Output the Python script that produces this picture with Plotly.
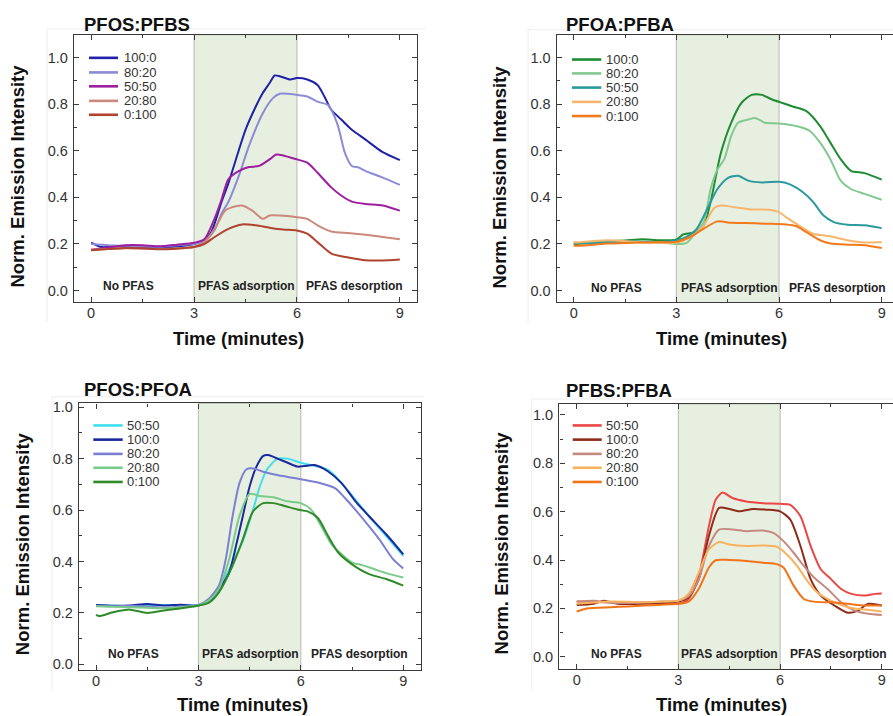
import plotly.graph_objects as go

# ---------------- data: PFOS:PFBS ----------------
t_osbs_100_0 = [0, 0.3, 0.8, 1.5, 2.2, 2.7, 3, 3.3, 3.5, 3.8, 4, 4.3, 4.5, 4.8, 5, 5.2, 5.35, 5.5, 5.8, 6, 6.3, 6.6, 6.8, 7, 7.3, 7.6, 8, 8.5, 9]
v_osbs_100_0 = [0.206, 0.187, 0.19, 0.188, 0.186, 0.192, 0.2, 0.215, 0.25, 0.38, 0.46, 0.6, 0.69, 0.79, 0.847, 0.89, 0.923, 0.92, 0.906, 0.912, 0.906, 0.882, 0.833, 0.776, 0.733, 0.69, 0.648, 0.594, 0.56]
t_osbs_80_20 = [0, 0.5, 1, 1.5, 2, 2.5, 3, 3.3, 3.6, 3.8, 4, 4.3, 4.6, 5, 5.3, 5.5, 6, 6.3, 6.6, 6.9, 7, 7.2, 7.4, 7.6, 7.8, 8, 8.5, 9]
v_osbs_80_20 = [0.2, 0.195, 0.192, 0.19, 0.188, 0.195, 0.2, 0.21, 0.26, 0.33, 0.38, 0.49, 0.62, 0.76, 0.826, 0.845, 0.84, 0.833, 0.811, 0.797, 0.776, 0.705, 0.59, 0.535, 0.528, 0.513, 0.485, 0.454]
t_osbs_50_50 = [0, 0.5, 1, 1.5, 2, 2.5, 3, 3.3, 3.6, 3.8, 4, 4.3, 4.6, 4.9, 5.2, 5.4, 5.6, 6, 6.3, 6.6, 7, 7.3, 7.6, 8, 8.5, 9]
v_osbs_50_50 = [0.175, 0.185, 0.195, 0.195, 0.19, 0.197, 0.205, 0.22, 0.31, 0.39, 0.478, 0.513, 0.53, 0.535, 0.563, 0.584, 0.58, 0.563, 0.549, 0.506, 0.443, 0.407, 0.382, 0.372, 0.365, 0.343]
t_osbs_20_80 = [0, 0.5, 1, 1.5, 2, 2.5, 3, 3.3, 3.6, 3.9, 4.1, 4.4, 4.7, 5, 5.2, 5.5, 6, 6.3, 6.6, 7, 7.5, 8, 8.5, 9]
v_osbs_20_80 = [0.175, 0.178, 0.182, 0.18, 0.178, 0.182, 0.187, 0.208, 0.265, 0.343, 0.357, 0.365, 0.343, 0.308, 0.322, 0.322, 0.315, 0.308, 0.28, 0.254, 0.247, 0.24, 0.23, 0.22]
t_osbs_0_100 = [0, 0.5, 1, 1.5, 2, 2.5, 3, 3.3, 3.6, 4, 4.4, 4.8, 5.2, 5.6, 6, 6.3, 6.6, 7, 7.5, 8, 8.5, 9]
v_osbs_0_100 = [0.173, 0.178, 0.183, 0.182, 0.177, 0.18, 0.187, 0.2, 0.23, 0.265, 0.284, 0.28, 0.27, 0.262, 0.258, 0.244, 0.208, 0.159, 0.142, 0.13, 0.129, 0.133]

# ---------------- data: PFOA:PFBA ----------------
t_oaba_100_0 = [0, 0.5, 1, 1.5, 2, 2.5, 3, 3.2, 3.5, 3.8, 4, 4.3, 4.6, 4.9, 5.2, 5.5, 5.8, 6.1, 6.4, 6.8, 7.2, 7.5, 7.8, 8.1, 8.5, 9]
v_oaba_100_0 = [0.199, 0.205, 0.212, 0.215, 0.22, 0.216, 0.22, 0.241, 0.25, 0.28, 0.38, 0.59, 0.72, 0.805, 0.84, 0.84, 0.82, 0.805, 0.79, 0.77, 0.706, 0.635, 0.564, 0.514, 0.504, 0.476]
t_oaba_80_20 = [0, 0.5, 1, 1.5, 2, 2.5, 3, 3.3, 3.5, 3.8, 4, 4.2, 4.4, 4.6, 4.8, 5.1, 5.3, 5.6, 6, 6.5, 6.9, 7.2, 7.5, 7.8, 8.1, 8.5, 9]
v_oaba_80_20 = [0.205, 0.205, 0.21, 0.212, 0.21, 0.208, 0.2, 0.205, 0.237, 0.294, 0.436, 0.52, 0.564, 0.663, 0.72, 0.734, 0.741, 0.72, 0.717, 0.706, 0.685, 0.635, 0.564, 0.472, 0.436, 0.415, 0.39]
t_oaba_50_50 = [0, 0.5, 1, 1.5, 2, 2.5, 3, 3.3, 3.6, 3.9, 4.2, 4.5, 4.8, 5.1, 5.5, 6, 6.3, 6.7, 7, 7.3, 7.6, 8, 8.5, 9]
v_oaba_50_50 = [0.205, 0.203, 0.208, 0.21, 0.21, 0.208, 0.216, 0.23, 0.266, 0.35, 0.436, 0.483, 0.493, 0.472, 0.464, 0.467, 0.457, 0.422, 0.38, 0.322, 0.294, 0.283, 0.28, 0.268]
t_oaba_20_80 = [0, 0.5, 1, 1.5, 2, 2.5, 3, 3.5, 3.8, 4.1, 4.3, 4.7, 5.2, 5.7, 6, 6.2, 6.5, 7, 7.5, 8, 8.5, 9]
v_oaba_20_80 = [0.206, 0.212, 0.216, 0.212, 0.206, 0.206, 0.206, 0.237, 0.28, 0.354, 0.365, 0.358, 0.348, 0.347, 0.337, 0.315, 0.287, 0.244, 0.233, 0.216, 0.206, 0.209]
t_oaba_0_100 = [0, 0.5, 1, 1.5, 2, 2.5, 3, 3.4, 3.8, 4.2, 4.6, 5, 5.6, 6.2, 6.5, 6.8, 7.2, 7.5, 8, 8.5, 9]
v_oaba_0_100 = [0.192, 0.196, 0.202, 0.204, 0.206, 0.207, 0.209, 0.23, 0.266, 0.297, 0.291, 0.29, 0.287, 0.284, 0.277, 0.251, 0.216, 0.202, 0.197, 0.195, 0.183]

# ---------------- data: PFOS:PFOA ----------------
t_osoa_50_50 = [0, 0.5, 1, 1.5, 2, 2.5, 3, 3.3, 3.6, 4, 4.3, 4.6, 4.8, 5, 5.3, 5.6, 6, 6.3, 6.8, 7.2, 7.6, 8, 8.5, 9]
v_osoa_50_50 = [0.231, 0.228, 0.226, 0.228, 0.231, 0.231, 0.231, 0.248, 0.293, 0.396, 0.479, 0.601, 0.692, 0.756, 0.798, 0.8, 0.784, 0.775, 0.756, 0.704, 0.64, 0.576, 0.499, 0.422]
t_osoa_100_0 = [0, 0.5, 1, 1.5, 2, 2.5, 3, 3.3, 3.6, 3.9, 4.1, 4.3, 4.5, 4.7, 4.9, 5.05, 5.3, 5.6, 5.9, 6.1, 6.4, 6.8, 7.2, 7.6, 8, 8.5, 9]
v_osoa_100_0 = [0.231, 0.228, 0.229, 0.235, 0.229, 0.232, 0.229, 0.248, 0.293, 0.357, 0.46, 0.576, 0.692, 0.769, 0.811, 0.814, 0.801, 0.785, 0.769, 0.771, 0.775, 0.75, 0.704, 0.634, 0.576, 0.506, 0.428]
t_osoa_80_20 = [0, 0.5, 1, 1.5, 2, 2.5, 3, 3.3, 3.6, 3.8, 4, 4.2, 4.4, 4.6, 4.9, 5.3, 5.7, 6, 6.5, 7, 7.3, 7.6, 8, 8.3, 8.7, 9]
v_osoa_80_20 = [0.228, 0.226, 0.228, 0.225, 0.22, 0.225, 0.231, 0.254, 0.306, 0.409, 0.576, 0.704, 0.758, 0.762, 0.749, 0.736, 0.727, 0.72, 0.707, 0.685, 0.646, 0.601, 0.537, 0.486, 0.409, 0.373]
t_osoa_20_80 = [0, 0.5, 1, 1.5, 2, 2.5, 3, 3.3, 3.6, 3.9, 4.2, 4.5, 4.8, 5.2, 5.6, 6, 6.3, 6.6, 6.9, 7.2, 7.5, 7.8, 8.2, 8.6, 9]
v_osoa_20_80 = [0.226, 0.224, 0.222, 0.22, 0.218, 0.222, 0.229, 0.248, 0.293, 0.409, 0.576, 0.663, 0.655, 0.65, 0.634, 0.627, 0.602, 0.537, 0.467, 0.428, 0.396, 0.386, 0.368, 0.351, 0.338]
t_osoa_0_100 = [0, 0.1, 0.5, 1, 1.5, 2, 2.5, 3, 3.3, 3.6, 4, 4.3, 4.6, 4.9, 5.2, 5.5, 5.9, 6.2, 6.5, 6.8, 7.1, 7.5, 8, 8.5, 9]
v_osoa_0_100 = [0.193, 0.188, 0.203, 0.213, 0.2, 0.21, 0.218, 0.229, 0.239, 0.28, 0.383, 0.486, 0.595, 0.627, 0.627, 0.617, 0.602, 0.595, 0.569, 0.499, 0.434, 0.389, 0.351, 0.332, 0.306]

# ---------------- data: PFBS:PFBA ----------------
t_bsba_50_50 = [0, 0.5, 1, 1.5, 2, 2.5, 3, 3.3, 3.6, 3.9, 4.1, 4.3, 4.6, 5, 5.5, 6, 6.3, 6.6, 6.9, 7.2, 7.5, 7.8, 8.1, 8.5, 8.8, 9]
v_bsba_50_50 = [0.228, 0.226, 0.225, 0.224, 0.223, 0.222, 0.219, 0.239, 0.335, 0.54, 0.649, 0.679, 0.656, 0.642, 0.635, 0.632, 0.628, 0.581, 0.458, 0.362, 0.321, 0.28, 0.26, 0.253, 0.26, 0.262]
t_bsba_100_0 = [0, 0.5, 0.8, 1.2, 2, 2.5, 3, 3.3, 3.6, 3.9, 4.2, 4.5, 4.8, 5.2, 5.6, 6, 6.3, 6.6, 6.9, 7.2, 7.6, 8, 8.3, 8.6, 9]
v_bsba_100_0 = [0.214, 0.219, 0.232, 0.219, 0.219, 0.222, 0.228, 0.246, 0.321, 0.499, 0.615, 0.611, 0.601, 0.611, 0.608, 0.601, 0.567, 0.458, 0.321, 0.253, 0.212, 0.182, 0.191, 0.219, 0.212]
t_bsba_80_20 = [0, 0.5, 1, 1.5, 2, 2.5, 3, 3.3, 3.6, 3.9, 4.2, 4.6, 5, 5.5, 5.8, 6.1, 6.4, 6.7, 7, 7.4, 7.8, 8.2, 8.6, 9]
v_bsba_80_20 = [0.228, 0.232, 0.223, 0.222, 0.225, 0.228, 0.232, 0.25, 0.321, 0.458, 0.526, 0.526, 0.519, 0.522, 0.512, 0.478, 0.43, 0.376, 0.328, 0.28, 0.225, 0.191, 0.178, 0.173]
t_bsba_20_80 = [0, 0.5, 1, 1.5, 2, 2.5, 3, 3.3, 3.6, 3.9, 4.2, 4.5, 5, 5.5, 5.9, 6.2, 6.5, 6.8, 7.1, 7.5, 8, 8.5, 9]
v_bsba_20_80 = [0.219, 0.224, 0.228, 0.227, 0.225, 0.228, 0.232, 0.26, 0.348, 0.444, 0.474, 0.464, 0.458, 0.46, 0.455, 0.423, 0.376, 0.314, 0.266, 0.232, 0.205, 0.195, 0.187]
t_bsba_0_100 = [0, 0.3, 1, 1.5, 2, 2.5, 3, 3.3, 3.6, 3.9, 4.1, 4.5, 5, 5.5, 5.9, 6.1, 6.4, 6.7, 7, 7.5, 8, 8.5, 9]
v_bsba_0_100 = [0.187, 0.2, 0.205, 0.208, 0.212, 0.215, 0.219, 0.228, 0.28, 0.369, 0.399, 0.4, 0.396, 0.389, 0.383, 0.369, 0.294, 0.239, 0.228, 0.225, 0.219, 0.212, 0.212]

# ---------------- labels ----------------
panel_titles = ["PFOS:PFBS", "PFOA:PFBA", "PFOS:PFOA", "PFBS:PFBA"]
phase_labels = ["No PFAS", "PFAS adsorption", "PFAS desorption"]
x_ticks = [0, 3, 6, 9]
y_ticks = [0.0, 0.2, 0.4, 0.6, 0.8, 1.0]
x_title = "Time (minutes)"
y_title = "Norm. Emission Intensity"

W, H = 893, 716
FONT = "Liberation Sans, Arial, sans-serif"
INK = "#222222"
AXC = "#3a3a3a"


def fx(p):
    return p / W


def fy(p):
    return 1 - p / H


# per-panel layout: frame box in pixels (left, top, right, bottom), axis ranges,
# title anchor, phase-label positions, axis-title anchors, legend geometry,
# faint outer panel border (left, top, right, bottom), series
panels = [
    dict(box=(74, 31, 417, 301), xr=[-0.5, 9.5], yr=[-0.051, 1.098], mirror_y=True,
         title_xy=(82, 20.5), phase_x=[1.08, 4.53, 7.69], phase_y=0.02,
         ytitle_xy=(18, 174), xtitle_xy=(238, 337),
         leg_x=(89, 118, 122), leg_y=[54.3, 69, 83, 97.7, 111.7],
         outer=(47, 25, 425, 321),
         series=[("100:0", t_osbs_100_0, v_osbs_100_0, "#1f22a6"),
                 ("80:20", t_osbs_80_20, v_osbs_80_20, "#8b8bd6"),
                 ("50:50", t_osbs_50_50, v_osbs_50_50, "#9c1fa0"),
                 ("20:80", t_osbs_20_80, v_osbs_20_80, "#cc887a"),
                 ("0:100", t_osbs_0_100, v_osbs_0_100, "#b0432f")]),
    dict(box=(556.7, 31, 893, 301), xr=[-0.497, 9.33], yr=[-0.051, 1.098], mirror_y=False,
         title_xy=(564.3, 20.5), phase_x=[1.24, 4.55, 7.72], phase_y=0.01,
         ytitle_xy=(500, 175), xtitle_xy=(721, 337.7),
         leg_x=(572, 601.3, 604.3), leg_y=[56, 70, 84.3, 98.7, 113],
         outer=(528, 26, 893, 321),
         series=[("100:0", t_oaba_100_0, v_oaba_100_0, "#1f8c34"),
                 ("80:20", t_oaba_80_20, v_oaba_80_20, "#82c98f"),
                 ("50:50", t_oaba_50_50, v_oaba_50_50, "#2b9a9e"),
                 ("20:80", t_oaba_20_80, v_oaba_20_80, "#f7b66e"),
                 ("0:100", t_oaba_0_100, v_oaba_0_100, "#f27a1a")]),
    dict(box=(79, 402.7, 421, 671.7), xr=[-0.498, 9.52], yr=[-0.022, 1.015], mirror_y=True,
         title_xy=(81.7, 388.3), phase_x=[1.11, 4.54, 7.72], phase_y=0.042,
         ytitle_xy=(22.7, 544), xtitle_xy=(242.5, 706.7),
         leg_x=(93.3, 122.7, 125.3), leg_y=[425, 439.3, 453.7, 467.7, 482],
         outer=(52, 396, 424, 692),
         series=[("50:50", t_osoa_50_50, v_osoa_50_50, "#40dff0"),
                 ("100:0", t_osoa_100_0, v_osoa_100_0, "#1a2a9c"),
                 ("80:20", t_osoa_80_20, v_osoa_80_20, "#7b80d2"),
                 ("20:80", t_osoa_20_80, v_osoa_20_80, "#78cc88"),
                 ("0:100", t_osoa_0_100, v_osoa_0_100, "#2f8a2a")]),
    dict(box=(559.3, 403.3, 893, 671), xr=[-0.513, 9.33], yr=[-0.052, 1.045], mirror_y=False,
         title_xy=(564.3, 389.3), phase_x=[1.18, 4.52, 7.72], phase_y=0.011,
         ytitle_xy=(501, 544), xtitle_xy=(721, 706.7),
         leg_x=(572.7, 601.7, 604.3), leg_y=[425, 439.3, 453.7, 467.7, 482],
         outer=(531.7, 398.3, 893, 693),
         series=[("50:50", t_bsba_50_50, v_bsba_50_50, "#ec4646"),
                 ("100:0", t_bsba_100_0, v_bsba_100_0, "#8e2c1c"),
                 ("80:20", t_bsba_80_20, v_bsba_80_20, "#c48a80"),
                 ("20:80", t_bsba_20_80, v_bsba_20_80, "#f8b25c"),
                 ("0:100", t_bsba_0_100, v_bsba_0_100, "#f27418")]),
]

fig = go.Figure()
layout = dict(width=W, height=H, margin=dict(l=0, r=0, t=0, b=0),
              paper_bgcolor="white", plot_bgcolor="white", showlegend=False)
shapes, annotations = [], []

for i, p in enumerate(panels):
    n = "" if i == 0 else str(i + 1)
    xa, ya = "x" + n, "y" + n
    left, top, right, bottom = p["box"]

    layout["xaxis" + n] = dict(
        domain=[fx(left), fx(right)], range=p["xr"], anchor=ya,
        showline=True, linecolor=AXC, linewidth=1.4, mirror="ticks",
        ticks="inside", ticklen=5, tickwidth=1.2, tickcolor=AXC,
        tickvals=x_ticks, ticklabelstandoff=-3,
        tickfont=dict(family=FONT, size=14.5, color="#333"),
        minor=dict(ticks="inside", ticklen=3, tickwidth=1, tickcolor=AXC, tickvals=[1.5, 4.5, 7.5]),
        showgrid=False, zeroline=False, fixedrange=True)
    layout["yaxis" + n] = dict(
        domain=[fy(bottom), fy(top)], range=p["yr"], anchor=xa,
        showline=True, linecolor=AXC, linewidth=1.4,
        mirror="ticks" if p["mirror_y"] else False,
        ticks="inside", ticklen=5, tickwidth=1.2, tickcolor=AXC,
        tickvals=y_ticks, tickformat=".1f", ticklabelstandoff=2,
        tickfont=dict(family=FONT, size=14.5, color="#333"),
        minor=dict(ticks="inside", ticklen=3, tickwidth=1, tickcolor=AXC,
                   tickvals=[0.1, 0.3, 0.5, 0.7, 0.9]),
        showgrid=False, zeroline=False, fixedrange=True)

    # faint outer panel border (top and left edges)
    ol, ot, orr, ob = p["outer"]
    shapes.append(dict(type="line", xref="paper", yref="paper", x0=fx(ol), x1=fx(orr),
                       y0=fy(ot), y1=fy(ot), line=dict(color="#eeeeee", width=1), layer="below"))
    shapes.append(dict(type="line", xref="paper", yref="paper", x0=fx(ol), x1=fx(ol),
                       y0=fy(ot), y1=fy(ob), line=dict(color="#eeeeee", width=1), layer="below"))

    # adsorption window
    shapes.append(dict(type="rect", xref=xa, yref=ya + " domain", x0=3, x1=6, y0=0, y1=1,
                       fillcolor="#e7efe0", line=dict(color="#b4bcac", width=1), layer="below"))

    for name, t, v, col in p["series"]:
        fig.add_trace(go.Scatter(x=t, y=v, mode="lines", name=name, xaxis=xa, yaxis=ya,
                                 line=dict(color=col, width=2, shape="spline", smoothing=0.7),
                                 hoverinfo="skip"))

    # phase labels
    for lab, xp in zip(phase_labels, p["phase_x"]):
        annotations.append(dict(text="<b>%s</b>" % lab, x=xp, y=p["phase_y"], xref=xa, yref=ya,
                                showarrow=False, font=dict(family=FONT, size=12, color=INK),
                                xanchor="center", yanchor="middle"))

    # panel title
    tx, ty = p["title_xy"]
    annotations.append(dict(text="<b>%s</b>" % panel_titles[i], x=fx(tx), y=fy(ty),
                            xref="paper", yref="paper", showarrow=False, xanchor="left",
                            yanchor="middle", font=dict(family=FONT, size=18.5, color="#111")))
    # axis titles
    ax_x, ax_y = p["xtitle_xy"]
    annotations.append(dict(text="<b>%s</b>" % x_title, x=fx(ax_x), y=fy(ax_y),
                            xref="paper", yref="paper", showarrow=False, xanchor="center",
                            yanchor="middle", font=dict(family=FONT, size=18.5, color="#111")))
    ay_x, ay_y = p["ytitle_xy"]
    annotations.append(dict(text="<b>%s</b>" % y_title, x=fx(ay_x), y=fy(ay_y),
                            xref="paper", yref="paper", showarrow=False, textangle=-90,
                            xanchor="center", yanchor="middle",
                            font=dict(family=FONT, size=18.5, color="#111")))

    # legend keys
    lx0, lx1, ltx = p["leg_x"]
    for (name, t, v, col), ly in zip(p["series"], p["leg_y"]):
        shapes.append(dict(type="line", xref="paper", yref="paper", x0=fx(lx0), x1=fx(lx1),
                           y0=fy(ly), y1=fy(ly), line=dict(color=col, width=2.6)))
        annotations.append(dict(text=name, x=fx(ltx), y=fy(ly), xref="paper", yref="paper",
                                showarrow=False, xanchor="left", yanchor="middle",
                                font=dict(family=FONT, size=13, color="#333")))

layout["shapes"] = shapes
layout["annotations"] = annotations
fig.update_layout(**layout)
fig.write_html("out.html")
